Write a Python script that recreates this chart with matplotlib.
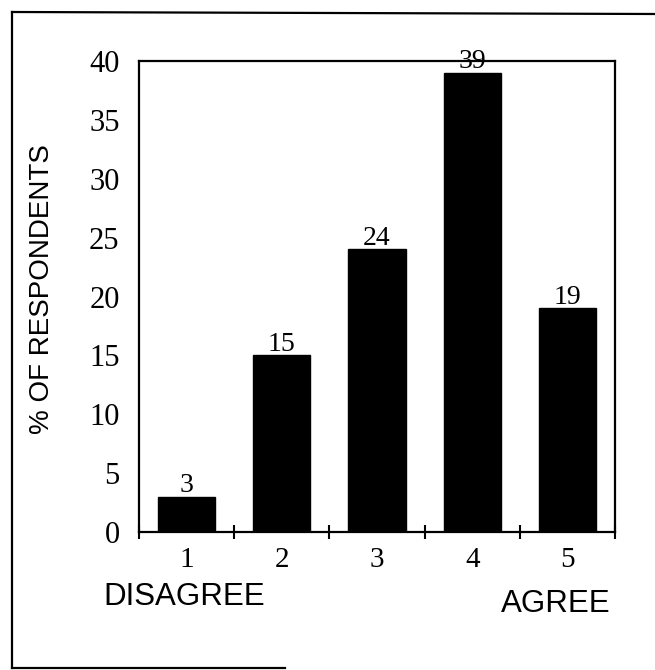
import matplotlib
matplotlib.use("Agg")
import matplotlib.pyplot as plt
from matplotlib.lines import Line2D
from matplotlib.ticker import FixedLocator

categories = [1, 2, 3, 4, 5]
percent = [3, 15, 24, 39, 19]
y_ticks = [0, 5, 10, 15, 20, 25, 30, 35, 40]

W, H = 655, 670
fig = plt.figure(figsize=(W / 100, H / 100), dpi=100)
fig.patch.set_facecolor("white")

def fx(px):
    return px / W

def fy(py):
    return 1 - py / H

left, right, top, bottom = 139, 615, 61, 532
ax = fig.add_axes([fx(left), fy(bottom), fx(right) - fx(left), fy(top) - fy(bottom)])

ax.bar(categories, percent, width=0.6, color="black", edgecolor="black")
ax.set_xlim(0.5, 5.5)
ax.set_ylim(0, 40)

serif = "Liberation Serif"
sans = "Liberation Sans"

ax.set_yticks(y_ticks)
ax.set_yticklabels([str(v) for v in y_ticks], fontfamily=serif, fontsize=22)
ax.tick_params(axis="y", length=0, pad=14)

ax.set_xticks(categories)
ax.set_xticklabels([str(c) for c in categories], fontfamily=serif, fontsize=21)
ax.tick_params(axis="x", which="major", length=0, pad=11)
ax.xaxis.set_minor_locator(FixedLocator([c - 0.5 for c in categories] + [categories[-1] + 0.5]))
ax.tick_params(axis="x", which="minor", direction="inout", length=10, width=1.5)

for s in ax.spines.values():
    s.set_linewidth(1.6)
    s.set_color("black")

for c, v in zip(categories, percent):
    ax.annotate(str(v), (c, v), xytext=(0, -1), textcoords="offset points",
                ha="center", va="bottom", fontfamily=serif, fontsize=20)

fig.text(fx(42), fy(289), "% OF RESPONDENTS", rotation=90, ha="center", va="center",
         fontfamily=sans, fontsize=20)
fig.text(fx(184), fy(597), "DISAGREE", ha="center", va="center",
         fontfamily=sans, fontsize=22.5)
fig.text(fx(556), fy(604), "AGREE", ha="center", va="center",
         fontfamily=sans, fontsize=22.5)

# outer frame of the scanned figure
frame_kw = dict(transform=fig.transFigure, color="black", linewidth=1.6)
fig.add_artist(Line2D([fx(12), fx(655)], [fy(12), fy(14)], **frame_kw))
fig.add_artist(Line2D([fx(12), fx(12)], [fy(12), fy(668)], **frame_kw))
fig.add_artist(Line2D([fx(12), fx(285)], [fy(668), fy(668)], **frame_kw))

fig.savefig("out.png", dpi=100, facecolor="white")
